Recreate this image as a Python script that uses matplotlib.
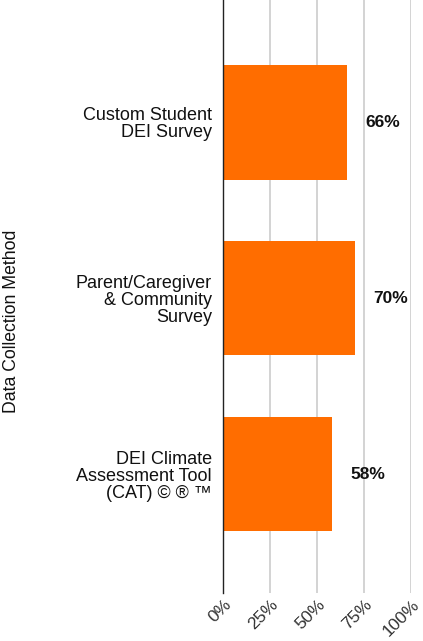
import matplotlib
matplotlib.use("Agg")
import matplotlib.pyplot as plt
import matplotlib.transforms as mtransforms

categories = ["Custom Student\nDEI Survey",
              "Parent/Caregiver\n& Community\nSurvey",
              "DEI Climate\nAssessment Tool\n(CAT) © ® ™"]
values = [0.66, 0.70, 0.58]
value_labels = ["66%", "70%", "58%"]
xticks = [0, 0.25, 0.5, 0.75, 1.0]
xtick_labels = ["0%", "25%", "50%", "75%", "100%"]
axis_title = "Data Collection Method"

plt.rcParams['font.family'] = ['Liberation Sans', 'DejaVu Sans']

fig = plt.figure(figsize=(4.23, 6.41), dpi=100)
ax = fig.add_axes([223/423, 1 - 593/641, (411-223)/423, 593/641])

bar_color = "#FF6D00"
ypos = list(range(len(categories)))
ax.barh(ypos, values, height=0.65, color=bar_color, zorder=3)

for y, v, lab in zip(ypos, values, value_labels):
    ax.annotate(lab, xy=(v, y), xytext=(13.5, 0), textcoords="offset points",
                ha="left", va="center", fontsize=12.5, fontweight="bold",
                color="#111111")

ax.set_xlim(0, 1)
ax.set_ylim(2.676, -0.696)
ax.set_yticks(ypos)
ax.set_yticklabels(categories, fontsize=13, color="#111111", linespacing=1.0)
ax.set_xticks(xticks)
ax.set_xticklabels(xtick_labels, fontsize=12.5, color="#333333")
ax.tick_params(axis="both", length=0)
ax.tick_params(axis="y", pad=8)

offset = mtransforms.ScaledTranslation(6/100, -4/100, fig.dpi_scale_trans)
for t in ax.get_xticklabels():
    t.set_rotation(45)
    t.set_rotation_mode("anchor")
    t.set_ha("right")
    t.set_va("center")
    t.set_transform(t.get_transform() + offset)

ax.grid(axis="x", color="#cccccc", linewidth=1.2, zorder=0)
for s in ["top", "right", "bottom"]:
    ax.spines[s].set_visible(False)
ax.spines["left"].set_color("#222222")
ax.spines["left"].set_linewidth(1.0)
ax.spines["left"].set_zorder(4)

fig.text(12/423, 1 - 321/641, axis_title, rotation=90, ha="center", va="center",
         fontsize=12.7, color="#111111")

fig.savefig("out.png", dpi=100)
